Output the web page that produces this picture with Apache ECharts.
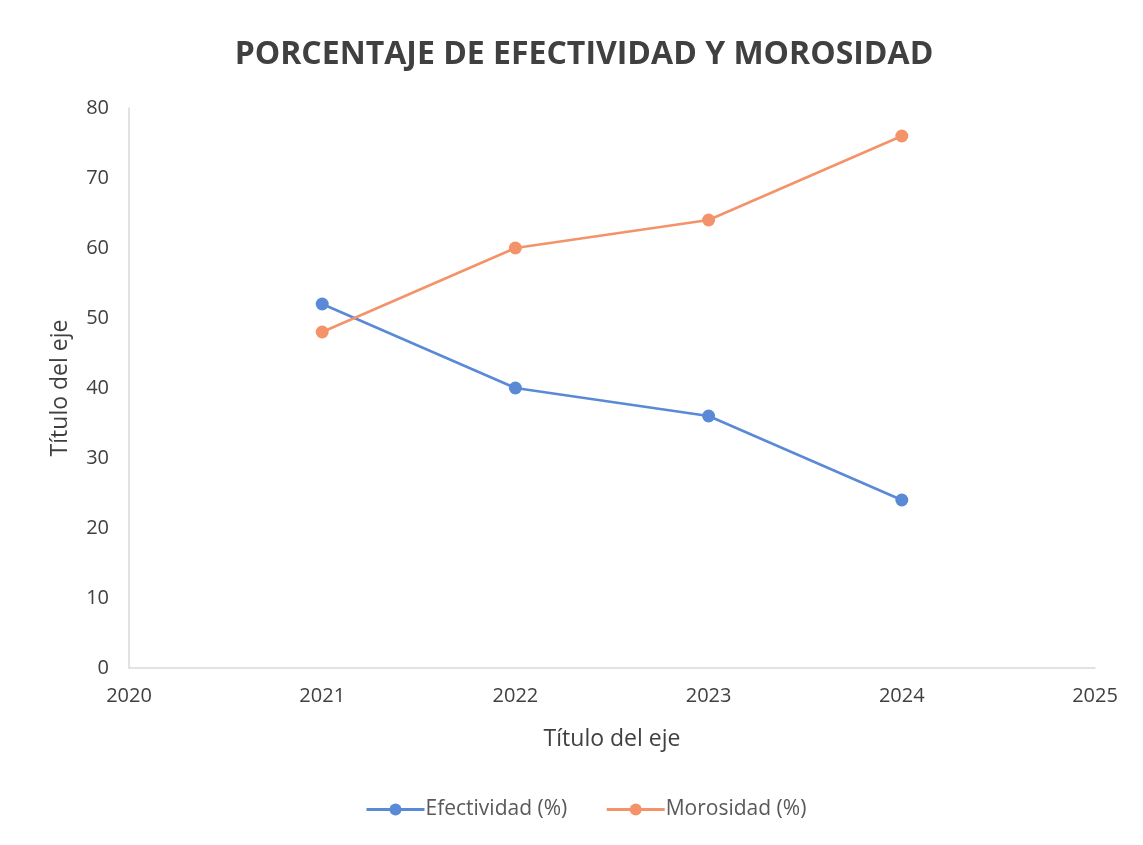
<!DOCTYPE html>
<html>
<head>
<meta charset="utf-8">
<script src="https://cdn.jsdelivr.net/npm/echarts@6/dist/echarts.min.js"></script>
<style>
  html, body { margin: 0; padding: 0; background: #fff; }
  #chart { width: 1143px; height: 845px; }
</style>
</head>
<body>
<div id="chart"></div>
<script>
// chart data
var years = [2021, 2022, 2023, 2024]
var efectividad = [52, 40, 36, 24]
var morosidad = [48, 60, 64, 76]

var chart = echarts.init(document.getElementById('chart'))

function pairs(xs, ys) {
  return xs.map(function (x, i) { return [x, ys[i]] })
}

var fontFam = '"Open Sans", "Noto Sans", sans-serif'

chart.setOption({
  animation: false,
  title: {
    text: 'PORCENTAJE DE EFECTIVIDAD Y MOROSIDAD',
    left: 579,
    textAlign: 'center',
    top: 34,
    textStyle: {
      fontFamily: fontFam,
      fontSize: 32,
      fontWeight: 'bold',
      color: '#404040'
    }
  },
  grid: {
    left: 129,
    right: 48,
    top: 108,
    bottom: 177
  },
  legend: {
    bottom: 20,
    left: 360,
    itemWidth: 58,
    itemHeight: 15,
    itemGap: 38,
    lineStyle: { width: 3 },
    textStyle: {
      fontFamily: fontFam,
      fontSize: 21,
      color: '#595959',
      padding: [0, 0, 0, -4]
    },
    data: ['Efectividad (%)', 'Morosidad (%)']
  },
  xAxis: {
    type: 'value',
    min: 2020,
    max: 2025,
    interval: 1,
    name: 'Título del eje',
    nameLocation: 'middle',
    nameGap: 60,
    nameTextStyle: {
      fontFamily: fontFam,
      fontSize: 23,
      color: '#404040'
    },
    axisLine: { show: true, lineStyle: { color: '#d9d9d9', width: 1.5 } },
    axisTick: { show: false },
    splitLine: { show: false },
    axisLabel: {
      margin: 18,
      fontFamily: fontFam,
      fontSize: 20,
      color: '#404040',
      formatter: function (v) { return String(v) }
    }
  },
  yAxis: {
    type: 'value',
    min: 0,
    max: 80,
    interval: 10,
    name: 'Título del eje',
    nameLocation: 'middle',
    nameGap: 57,
    nameTextStyle: {
      fontFamily: fontFam,
      fontSize: 23,
      color: '#404040'
    },
    axisLine: { show: true, lineStyle: { color: '#d9d9d9', width: 1.5 } },
    axisTick: { show: false },
    splitLine: { show: false },
    axisLabel: {
      margin: 20,
      fontFamily: fontFam,
      fontSize: 20,
      color: '#404040'
    }
  },
  series: [
    {
      name: 'Efectividad (%)',
      type: 'line',
      data: pairs(years, efectividad),
      symbol: 'circle',
      symbolSize: 13,
      itemStyle: { color: '#5a8ad6' },
      lineStyle: { color: '#5a8ad6', width: 2.5 }
    },
    {
      name: 'Morosidad (%)',
      type: 'line',
      data: pairs(years, morosidad),
      symbol: 'circle',
      symbolSize: 13,
      itemStyle: { color: '#f4936a' },
      lineStyle: { color: '#f4936a', width: 2.5 }
    }
  ]
})
</script>
</body>
</html>
